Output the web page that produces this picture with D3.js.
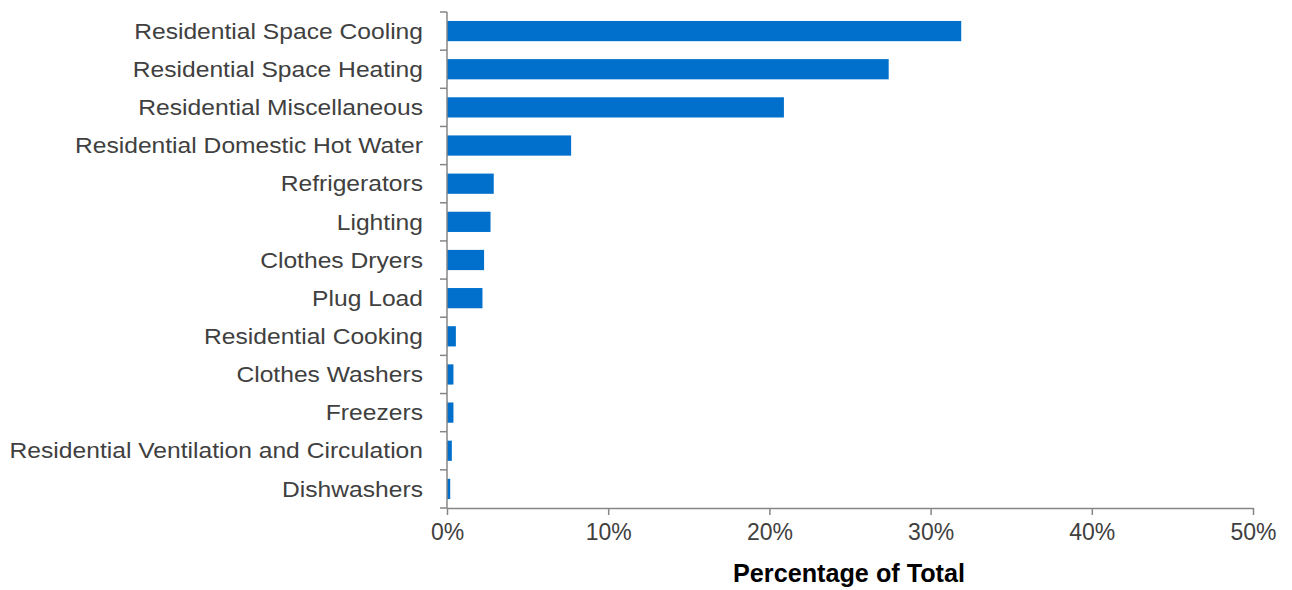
<!DOCTYPE html>
<html>
<head>
<meta charset="utf-8">
<script src="https://cdn.jsdelivr.net/npm/d3@7"></script>
<style>
  body { margin: 0; background: #fff; }
  svg text { font-family: "Liberation Sans", Arial, sans-serif; }
</style>
</head>
<body>
<svg id="main" width="1292" height="590"></svg>
<script>
    // categories top to bottom, share of total (%)
    const categories = ["Residential Space Cooling","Residential Space Heating","Residential Miscellaneous",
        "Residential Domestic Hot Water","Refrigerators","Lighting","Clothes Dryers","Plug Load",
        "Residential Cooking","Clothes Washers","Freezers","Residential Ventilation and Circulation","Dishwashers"];
    const values = [31.9, 27.4, 20.9, 7.7, 2.9, 2.7, 2.3, 2.2, 0.55, 0.4, 0.4, 0.3, 0.2];
    const xTicks = [0, 10, 20, 30, 40, 50];

    const svg = d3.select('svg#main');
    const mLeft = 447, mRight = 1253, mTop = 12, mBottom = 508;
    const axisColor = "#868686";

    const x = d3.scaleLinear().domain([0, 50]).range([mLeft, mRight]);
    const y = d3.scaleBand().domain(categories).range([mTop, mBottom]).paddingInner(0.47).paddingOuter(0.235);

    // bars
    svg.append("g").selectAll("rect")
        .data(categories)
        .enter()
        .append("rect")
        .attr("x", x(0))
        .attr("y", d => y(d))
        .attr("width", (d, i) => x(values[i]) - x(0))
        .attr("height", y.bandwidth())
        .attr("fill", "#0070CC");

    // x axis
    const xAxis = svg.append("g")
        .attr("transform", "translate(0," + mBottom + ")")
        .call(d3.axisBottom(x).tickValues(xTicks).tickFormat(d => d + "%").tickSize(7).tickSizeOuter(0));
    xAxis.select(".domain").attr("stroke", axisColor).attr("stroke-width", 1.5);
    xAxis.selectAll(".tick line").attr("stroke", axisColor).attr("stroke-width", 1.5);
    xAxis.selectAll(".tick text").attr("font-size", 23).attr("fill", "#404040").attr("y", 16);

    // y axis: ticks sit on category boundaries
    const yAxis = svg.append("g").attr("transform", "translate(" + mLeft + ",0)");
    yAxis.append("line")
        .attr("y1", mTop).attr("y2", mBottom)
        .attr("stroke", axisColor).attr("stroke-width", 1.5);
    yAxis.selectAll(".bt")
        .data(d3.range(categories.length + 1))
        .enter()
        .append("line")
        .attr("x1", -7).attr("x2", 0)
        .attr("y1", i => mTop + i * y.step())
        .attr("y2", i => mTop + i * y.step())
        .attr("stroke", axisColor).attr("stroke-width", 1.5);

    // category labels, slightly stretched sideways like the original
    const labels = svg.append("g").attr("transform", "translate(423,0) scale(1.12,1)");
    labels.selectAll("text")
        .data(categories)
        .enter()
        .append("text")
        .attr("x", 0)
        .attr("y", d => y(d) + y.bandwidth() / 2)
        .attr("dy", "0.35em")
        .attr("text-anchor", "end")
        .attr("font-size", 22)
        .attr("fill", "#404040")
        .text(d => d);

    // axis title (condensed bold)
    svg.append("text")
        .attr("x", 733)
        .attr("y", 582)
        .attr("font-size", 25)
        .attr("font-weight", "bold")
        .attr("fill", "#000")
        .attr("textLength", 232)
        .attr("lengthAdjust", "spacingAndGlyphs")
        .text("Percentage of Total");
</script>
</body>
</html>
